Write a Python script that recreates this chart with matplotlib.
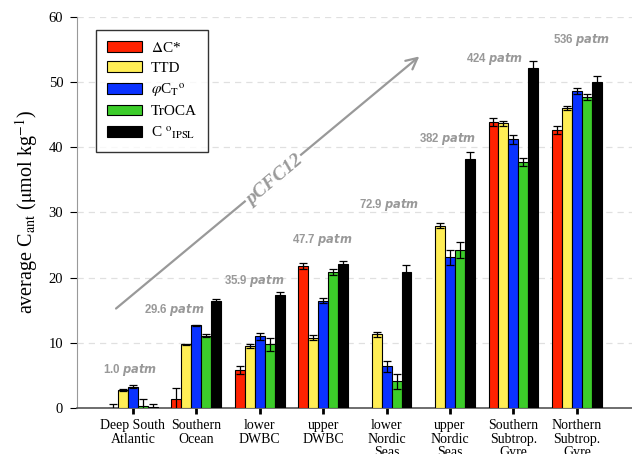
import numpy as np
import matplotlib
matplotlib.use("Agg")
import matplotlib.pyplot as plt
from matplotlib.patches import Patch

plt.rcParams['font.family'] = ['Liberation Serif', 'DejaVu Serif']
plt.rcParams['mathtext.fontset'] = 'stix'

# data
regions = ["Deep South\nAtlantic", "Southern\nOcean", "lower\nDWBC", "upper\nDWBC",
           "lower\nNordic\nSeas", "upper\nNordic\nSeas", "Southern\nSubtrop.\nGyre",
           "Northern\nSubtrop.\nGyre"]
methods = [r"$\Delta$C*", "TTD", r"$\varphi$C$_\mathrm{T}$$^\mathrm{o}$", "TrOCA",
           r"C $^\mathrm{o}$$_\mathrm{IPSL}$"]
colors = ["#ff2200", "#ffee55", "#0a32ff", "#3ccc2a", "#000000"]

dcstar = [0.05, 1.4, 5.9, 21.8, np.nan, np.nan, 43.9, 42.7]
dcstar_err = [0.55, 1.7, 0.6, 0.5, np.nan, np.nan, 0.6, 0.6]
ttd = [2.8, 9.8, 9.5, 10.8, 11.3, 28.0, 43.7, 46.0]
ttd_err = [0.1, 0.1, 0.3, 0.4, 0.4, 0.4, 0.4, 0.3]
phict = [3.3, 12.7, 11.0, 16.5, 6.4, 23.1, 41.2, 48.6]
phict_err = [0.2, 0.1, 0.5, 0.4, 0.8, 1.1, 0.7, 0.5]
troca = [0.3, 11.1, 9.8, 20.9, 4.1, 24.2, 37.7, 47.7]
troca_err = [1.1, 0.2, 1.0, 0.5, 1.1, 1.2, 0.6, 0.5]
cipsl = [0.2, 16.4, 17.3, 22.1, 20.9, 38.2, 52.2, 50.0]
cipsl_err = [0.45, 0.4, 0.5, 0.4, 1.1, 1.0, 1.0, 0.9]

values = [dcstar, ttd, phict, troca, cipsl]
errors = [dcstar_err, ttd_err, phict_err, troca_err, cipsl_err]

patm_labels = ["1.0 ", "29.6 ", "35.9 ", "47.7 ", "72.9 ", "382 ", "424 ", "536 "]
patm_x = [-0.05, 0.65, 1.91, 2.98, 4.04, 4.97, 5.71, 7.07]
patm_y = [5.9, 15.0, 19.5, 25.8, 31.2, 41.2, 53.6, 56.4]

fig = plt.figure(figsize=(6.32, 4.54), dpi=100)
ax = fig.add_axes([0.122, 0.101, 0.878, 0.862])

x = np.arange(len(regions))
width = 0.157
for i, (vals, errs) in enumerate(zip(values, errors)):
    pos = x + (i - 2) * width
    ax.bar(pos, vals, width, color=colors[i], edgecolor="black", linewidth=0.8, zorder=3)
    ax.errorbar(pos, vals, yerr=errs, fmt="none", ecolor="black", elinewidth=0.9,
                capsize=3, capthick=0.9, zorder=4)

ax.set_xlim(-0.88, 7.87)
ax.set_ylim(0, 60)
ax.set_yticks(range(0, 61, 10))
ax.set_xticks(x)
ax.set_xticklabels(regions, fontsize=10, linespacing=1.05)
ax.tick_params(axis='x', length=4, width=2, color='black', pad=4)
ax.tick_params(axis='y', length=5, width=0.8, colors='black', labelsize=10.5, pad=5)
ax.grid(axis='y', color='#e0e0e0', linestyle=(0, (5, 4)), linewidth=0.9, zorder=0)
for s in ['top', 'right']:
    ax.spines[s].set_visible(False)
ax.spines['left'].set_color('#999999')
ax.spines['bottom'].set_color('#555555')
ax.spines['bottom'].set_linewidth(1.2)
ax.set_ylabel(r"average C$_\mathrm{ant}$ ($\mathrm{\mu}$mol kg$^{-1}$)", fontsize=14.5, labelpad=6)

for lab, px, py in zip(patm_labels, patm_x, patm_y):
    ax.text(px, py, lab + r"$\mathbfit{patm}$", ha='center', va='center', color='#999999',
            fontsize=8.3, fontweight='bold', family=['Liberation Sans', 'DejaVu Sans'],
            math_fontfamily='dejavusans', zorder=5)

ax.annotate("", xy=(4.55, 54.2), xytext=(-0.3, 15.0),
            arrowprops=dict(arrowstyle="->", color='#999999', lw=1.6,
                            mutation_scale=20), zorder=2)
ax.text(2.24, 34.9, "pCFC12", rotation=40, ha='center', va='center', color='#999999',
        fontsize=14, fontstyle='italic', fontweight='bold',
        bbox=dict(facecolor='white', edgecolor='none', pad=1), zorder=2.5)

handles = [Patch(facecolor=c, edgecolor='black', linewidth=0.8) for c in colors]
leg = ax.legend(handles, methods, loc='upper left', bbox_to_anchor=(0.02, 0.985),
                fontsize=11, frameon=True, fancybox=False, edgecolor='black',
                handlelength=2.3, handleheight=0.7, handletextpad=0.6,
                borderpad=0.7, labelspacing=0.4)
leg.get_frame().set_linewidth(1.0)
leg.set_zorder(6)

fig.savefig("out.png", dpi=100)
